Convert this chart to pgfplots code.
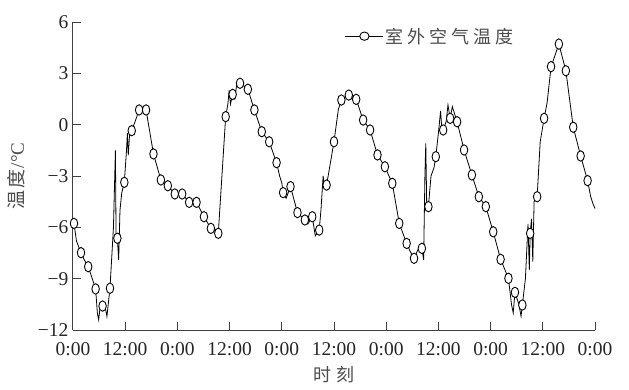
\documentclass[border=0pt]{standalone}
\usepackage{pgfplots}
\pgfplotsset{compat=1.18}
\usepackage{pgfplotstable}
\usepackage{fontspec}
\setmainfont{Liberation Serif}
\newfontfamily\cjk{Noto Sans CJK SC}
\pgfplotstableread{
x y
0 -5.5
0.23 -5.77
0.8 -6.8
1.84 -7.48
2.6 -7.9
3.5 -8.3
4.3 -8.9
5.2 -9.6
5.6 -11.0
5.9 -11.4
6.3 -10.5
6.8 -10.6
7.5 -10.8
7.8 -11.2
8.5 -9.56
9.3 -6.0
9.6 -3.0
9.75 -1.5
9.9 -6.5
10.2 -6.64
10.5 -7.9
10.8 -5.0
11.2 -4.0
11.8 -3.37
12.3 -1.5
12.5 -0.5
12.7 -1.8
13.0 -0.6
13.5 -0.35
14.3 0.2
15.2 0.86
16.0 1.0
16.8 0.86
18.5 -1.71
20.2 -3.23
21.8 -3.57
23.4 -4.05
25.1 -4.05
26.7 -4.54
28.4 -4.54
30.1 -5.38
31.7 -6.06
32.5 -6.2
33.4 -6.35
35.1 0.47
35.6 1.2
35.9 2.0
36.2 1.2
36.7 1.77
37.2 1.5
37.6 2.3
38.4 2.42
40.2 2.07
41.7 0.86
43.4 -0.41
45.1 -1.0
46.8 -2.22
47.5 -3.0
48.0 -3.4
48.3 -3.97
49.0 -4.3
50.0 -3.62
51.6 -5.14
53.3 -5.57
54.0 -5.8
55.0 -5.38
55.7 -6.5
56.6 -6.16
57.0 -5.0
57.5 -3.0
57.8 -3.6
58.3 -3.53
60.0 -1.0
61.0 0.9
61.7 1.44
63.4 1.73
65.1 1.48
66.7 0.27
68.3 -0.31
70.0 -1.77
71.7 -2.46
73.4 -3.43
75.0 -5.77
76.7 -6.94
77.5 -7.4
78.4 -7.81
79.3 -7.3
80.2 -7.23
80.6 -7.9
80.9 -3.0
81.1 -1.09
81.3 -4.5
81.7 -4.79
82.3 -3.0
83.0 -2.5
83.4 -1.87
84.0 -0.5
84.5 0.8
84.8 -0.3
85.1 -0.31
85.8 0.2
86.2 1.15
86.7 0.37
87.2 1.05
88.3 0.17
89.9 -1.48
91.7 -2.94
93.3 -4.21
94.9 -4.79
96.6 -6.26
98.3 -7.87
100.1 -8.98
100.8 -10.5
101.2 -11.0
101.6 -9.8
102.5 -10.5
103.0 -11.2
103.3 -10.54
104.0 -9.0
104.6 -5.8
104.9 -8.5
105.1 -6.35
105.4 -5.5
105.7 -8.0
106.0 -4.5
106.7 -4.21
107.4 -1.0
108.3 0.37
109.0 1.3
109.9 3.39
111.7 4.71
113.3 3.15
115.0 -0.15
116.7 -1.83
118.3 -3.27
119.0 -4.2
119.5 -4.6
120.0 -4.9
}\linedata
\pgfplotstableread{
x y
0.23 -5.77
1.84 -7.48
3.5 -8.3
5.2 -9.6
6.8 -10.6
8.5 -9.56
10.2 -6.64
11.8 -3.37
13.5 -0.35
15.2 0.86
16.8 0.86
18.5 -1.71
20.2 -3.23
21.8 -3.57
23.4 -4.05
25.1 -4.05
26.7 -4.54
28.4 -4.54
30.1 -5.38
31.7 -6.06
33.4 -6.35
35.1 0.47
36.7 1.77
38.4 2.42
40.2 2.07
41.7 0.86
43.4 -0.41
45.1 -1.0
46.8 -2.22
48.3 -3.97
50.0 -3.62
51.6 -5.14
53.3 -5.57
55.0 -5.38
56.6 -6.16
58.3 -3.53
60.0 -1.0
61.7 1.44
63.4 1.73
65.1 1.48
66.7 0.27
68.3 -0.31
70.0 -1.77
71.7 -2.46
73.4 -3.43
75.0 -5.77
76.7 -6.94
78.4 -7.81
80.2 -7.23
81.7 -4.79
83.4 -1.87
85.1 -0.31
86.7 0.37
88.3 0.17
89.9 -1.48
91.7 -2.94
93.3 -4.21
94.9 -4.79
96.6 -6.26
98.3 -7.87
100.1 -8.98
101.6 -9.8
103.3 -10.54
105.1 -6.35
106.7 -4.21
108.3 0.37
109.9 3.39
111.7 4.71
113.3 3.15
115.0 -0.15
116.7 -1.83
118.3 -3.27
}\markdata
\begin{document}
\begin{tikzpicture}
\useasboundingbox (0,0) rectangle (629pt,389pt);
\begin{axis}[
  at={(73pt,59pt)}, anchor=south west,
  scale only axis, width=522pt, height=308pt,
  xmin=0, xmax=120, ymin=-12, ymax=6,
  axis lines*=left,
  axis line style={-, black!75, line width=1pt},
  tick align=inside, major tick length=8pt,
  tick style={black!75, line width=1pt},
  xtick={0,12,24,36,48,60,72,84,96,108,120},
  xticklabels={0:00,12:00,0:00,12:00,0:00,12:00,0:00,12:00,0:00,12:00,0:00},
  ytick={-12,-9,-6,-3,0,3,6},
  yticklabels={−12,−9,−6,−3,0,3,6},
  ticklabel style={font=\fontsize{19.5}{19.5}\selectfont, text=black!85},
  xticklabel style={yshift=-9pt},
  yticklabel style={xshift=-1pt},
  xlabel={\cjk 时\hspace{6pt}刻},
  ylabel={{\cjk 温\hspace{2pt}度}\hspace{1pt}/°C},
  xlabel style={font=\fontsize{18}{18}\selectfont, text=black!70, at={(axis description cs:0.5,-0.146)}, anchor=center},
  ylabel style={font=\fontsize{19}{19}\selectfont, text=black!70, at={(axis description cs:-0.108,0.5)}, anchor=center},
  clip=false,
  legend style={at={(axis description cs:0.515,0.954)}, anchor=west, draw=none, fill=none,
    font=\fontsize{18}{18}\selectfont, text=black!70},
]
\addplot[black, line width=0.8pt, no marks, forget plot] table {\linedata};
\addplot[only marks, mark=*, mark size=5.2pt, mark options={fill=white, draw=black, line width=0.9pt, xscale=0.72}, forget plot] table {\markdata};
\addlegendimage{black, line width=0.8pt, mark=*, mark size=5.2pt, mark options={fill=white, draw=black, line width=0.9pt, xscale=0.9, yscale=0.8},
  legend image code/.code={\draw[mark repeat=2, mark phase=2] plot coordinates {(0pt,0pt) (19pt,0pt) (38pt,0pt)};}}
\addlegendentry{\cjk 室\hspace{4pt}外\hspace{4pt}空\hspace{4pt}气\hspace{4pt}温\hspace{4pt}度}
\end{axis}
\end{tikzpicture}
\end{document}
